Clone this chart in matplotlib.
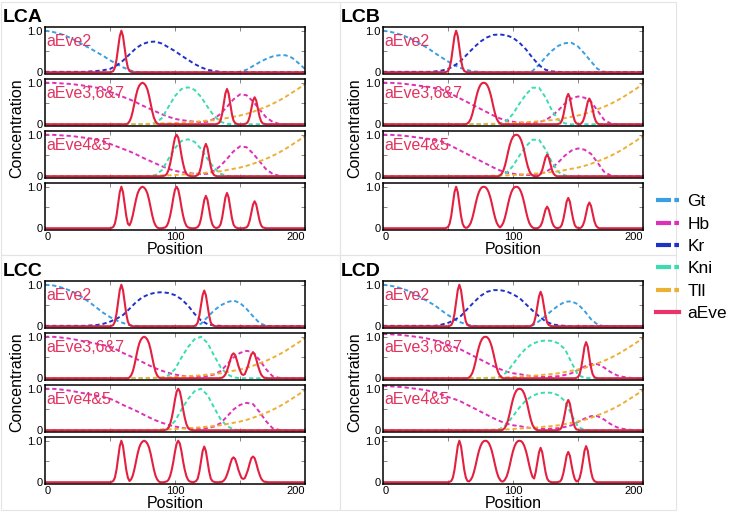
import numpy as np
import matplotlib
matplotlib.use('Agg')
import matplotlib.pyplot as plt
from matplotlib.lines import Line2D

plt.rcParams['font.family'] = ['Liberation Sans', 'DejaVu Sans']

# positions (A-P axis) the profiles were read at
pos = np.arange(0, 201, 5)
pos_eve = np.arange(0, 200.01, 1.25)

# ---- gap gene profiles, read every 5 positions (0..200) ----
lca_gt = [1.0, 0.98, 0.94, 0.89, 0.82, 0.74, 0.65, 0.57, 0.48, 0.39,
          0.29, 0.2, 0.12, 0.05, 0.01, 0, 0, 0, 0, 0,
          0, 0, 0, 0, 0, 0, 0, 0, 0, 0,
          0.01, 0.06, 0.15, 0.24, 0.32, 0.38, 0.41, 0.41, 0.35, 0.22, 0.08]
lca_kr = [0.01, 0.01, 0.01, 0.01, 0.01, 0.01, 0.01, 0.02, 0.03, 0.05,
          0.08, 0.16, 0.28, 0.43, 0.58, 0.68, 0.73, 0.74, 0.69, 0.6,
          0.51, 0.4, 0.3, 0.2, 0.12, 0.06, 0.03, 0.01, 0, 0,
          0, 0, 0, 0, 0, 0, 0, 0, 0, 0, 0]
lca_hb = [1.0, 1.0, 0.99, 0.98, 0.97, 0.95, 0.93, 0.91, 0.88, 0.84,
          0.78, 0.72, 0.66, 0.6, 0.53, 0.45, 0.38, 0.31, 0.24, 0.18,
          0.13, 0.1, 0.08, 0.06, 0.05, 0.06, 0.13, 0.25, 0.42, 0.6,
          0.72, 0.7, 0.55, 0.36, 0.17, 0.06, 0.01, 0, 0, 0, 0]
lca_kni = [0, 0, 0, 0, 0, 0, 0, 0, 0, 0,
           0, 0, 0, 0, 0, 0, 0, 0.03, 0.15, 0.42,
           0.68, 0.85, 0.89, 0.83, 0.66, 0.42, 0.2, 0.06, 0.01, 0,
           0, 0, 0, 0, 0, 0, 0, 0, 0, 0, 0]

lcb_gt = [1.0, 0.98, 0.94, 0.89, 0.83, 0.75, 0.66, 0.57, 0.46, 0.36,
          0.26, 0.17, 0.1, 0.05, 0.02, 0.01, 0, 0, 0, 0,
          0, 0, 0, 0.03, 0.18, 0.36, 0.52, 0.64, 0.7, 0.71,
          0.62, 0.45, 0.26, 0.08, 0.01, 0, 0, 0, 0, 0, 0]
lcb_kr = [0.01, 0.01, 0.01, 0.01, 0.01, 0.01, 0.01, 0.01, 0.02, 0.04,
          0.08, 0.16, 0.28, 0.44, 0.6, 0.74, 0.84, 0.9, 0.91, 0.89,
          0.83, 0.71, 0.55, 0.35, 0.17, 0.06, 0.02, 0.01, 0, 0,
          0, 0, 0, 0, 0, 0, 0, 0, 0, 0, 0]
lcb_hb = [1.0, 1.0, 0.99, 0.98, 0.96, 0.94, 0.92, 0.9, 0.87, 0.84,
          0.77, 0.69, 0.61, 0.53, 0.45, 0.37, 0.29, 0.21, 0.14, 0.09,
          0.06, 0.04, 0.03, 0.03, 0.05, 0.1, 0.2, 0.34, 0.5, 0.62,
          0.67, 0.64, 0.54, 0.33, 0.11, 0.02, 0, 0, 0, 0, 0]
lcb_kni = [0, 0, 0, 0, 0, 0, 0, 0, 0, 0,
           0, 0, 0, 0, 0, 0, 0, 0, 0.02, 0.08,
           0.25, 0.5, 0.72, 0.88, 0.88, 0.65, 0.33, 0.1, 0.02, 0,
           0, 0, 0, 0, 0, 0, 0, 0, 0, 0, 0]

lcc_gt = [1.0, 0.99, 0.96, 0.91, 0.85, 0.77, 0.67, 0.56, 0.44, 0.32,
          0.22, 0.14, 0.08, 0.03, 0.01, 0, 0, 0, 0, 0,
          0, 0, 0, 0, 0.06, 0.22, 0.38, 0.5, 0.58, 0.62,
          0.56, 0.42, 0.24, 0.08, 0.01, 0, 0, 0, 0, 0, 0]
lcc_kr = [0.01, 0.01, 0.01, 0.01, 0.01, 0.01, 0.01, 0.02, 0.03, 0.06,
          0.11, 0.18, 0.27, 0.42, 0.58, 0.7, 0.77, 0.81, 0.82, 0.8,
          0.75, 0.65, 0.5, 0.3, 0.14, 0.05, 0.02, 0.01, 0, 0,
          0, 0, 0, 0, 0, 0, 0, 0, 0, 0, 0]
lcc_hb = [1.0, 1.0, 0.99, 0.97, 0.95, 0.92, 0.89, 0.86, 0.83, 0.8,
          0.76, 0.69, 0.61, 0.54, 0.47, 0.39, 0.31, 0.24, 0.18, 0.13,
          0.09, 0.06, 0.04, 0.03, 0.04, 0.05, 0.09, 0.17, 0.33, 0.5,
          0.61, 0.66, 0.63, 0.44, 0.22, 0.05, 0.01, 0, 0, 0, 0]
lcc_kni = [0, 0, 0, 0, 0, 0, 0, 0, 0, 0,
           0, 0, 0, 0, 0, 0, 0, 0, 0.01, 0.07,
           0.22, 0.5, 0.75, 0.94, 1.0, 0.85, 0.55, 0.27, 0.1, 0.02,
           0, 0, 0, 0, 0, 0, 0, 0, 0, 0, 0]

lcd_gt = [1.0, 0.98, 0.95, 0.9, 0.85, 0.77, 0.68, 0.59, 0.5, 0.38,
          0.27, 0.17, 0.09, 0.04, 0.01, 0, 0, 0, 0, 0,
          0, 0, 0, 0.02, 0.12, 0.25, 0.38, 0.5, 0.59, 0.6,
          0.53, 0.37, 0.17, 0.04, 0, 0, 0, 0, 0, 0, 0]
lcd_kr = [0.01, 0.01, 0.01, 0.01, 0.01, 0.01, 0.01, 0.01, 0.01, 0.04,
          0.08, 0.15, 0.25, 0.42, 0.58, 0.73, 0.83, 0.87, 0.87, 0.84,
          0.77, 0.68, 0.53, 0.38, 0.24, 0.12, 0.05, 0.02, 0.01, 0,
          0, 0, 0, 0, 0, 0, 0, 0, 0, 0, 0]
lcd_hb = [1.07, 1.06, 1.05, 1.04, 1.02, 1.0, 0.98, 0.95, 0.91, 0.86,
          0.8, 0.75, 0.69, 0.61, 0.53, 0.45, 0.37, 0.29, 0.22, 0.16,
          0.12, 0.1, 0.07, 0.05, 0.04, 0.03, 0.04, 0.05, 0.08, 0.12,
          0.2, 0.28, 0.34, 0.34, 0.26, 0.15, 0.07, 0.03, 0.01, 0, 0]
lcd_kni = [0, 0, 0, 0, 0, 0, 0, 0, 0, 0,
           0, 0, 0, 0, 0, 0, 0, 0.01, 0.03, 0.14,
           0.34, 0.55, 0.72, 0.83, 0.89, 0.91, 0.9, 0.84, 0.7, 0.38,
           0.08, 0.01, 0, 0, 0, 0, 0, 0, 0, 0, 0]

tll = [0, 0, 0, 0, 0, 0, 0, 0, 0, 0,
       0, 0, 0, 0, 0, 0, 0.01, 0.01, 0.02, 0.02,
       0.03, 0.04, 0.05, 0.06, 0.07, 0.09, 0.1, 0.12, 0.15, 0.18,
       0.21, 0.25, 0.3, 0.36, 0.42, 0.49, 0.57, 0.66, 0.76, 0.86, 0.97]

# ---- aEve stripe outputs: (first position, values every 1.25), zero elsewhere ----
lca_eve2 = [(51.25, [0.01, 0.03, 0.11, 0.3, 0.58, 0.87, 1.0, 0.87, 0.58, 0.3, 0.11, 0.03, 0.01])]
lca_eve367 = [(62.5, [0, 0.02, 0.07, 0.16, 0.31, 0.5, 0.69, 0.84, 0.93, 0.98, 1.0,
                      0.98, 0.93, 0.84, 0.69, 0.5, 0.31, 0.16, 0.07, 0.02, 0]),
              (132.5, [0.01, 0.03, 0.09, 0.25, 0.49, 0.74, 0.85, 0.74, 0.49, 0.25, 0.09, 0.03, 0.01]),
              (153.75, [0.01, 0.02, 0.07, 0.19, 0.38, 0.57, 0.65, 0.57, 0.38, 0.19, 0.07, 0.02, 0.01])]
lca_eve45 = [(91.25, [0.01, 0.02, 0.06, 0.15, 0.3, 0.5, 0.74, 0.93, 1.0,
                      0.93, 0.74, 0.5, 0.3, 0.15, 0.06, 0.02, 0.01]),
             (116.25, [0.01, 0.03, 0.09, 0.23, 0.45, 0.68, 0.78, 0.68, 0.45, 0.23, 0.09, 0.03, 0.01])]

lcb_eve2 = [(48.75, [0.01, 0.03, 0.11, 0.3, 0.58, 0.87, 1.0, 0.87, 0.58, 0.3, 0.11, 0.03, 0.01])]
lcb_eve367 = [(65.0, [0.02, 0.06, 0.13, 0.25, 0.41, 0.59, 0.75, 0.87, 0.95, 0.99, 1.0,
                      0.99, 0.95, 0.87, 0.75, 0.59, 0.41, 0.25, 0.13, 0.06, 0.02]),
              (135.0, [0.01, 0.02, 0.08, 0.22, 0.42, 0.64, 0.73, 0.64, 0.42, 0.22, 0.08, 0.02, 0.01]),
              (151.25, [0.0, 0.02, 0.07, 0.18, 0.36, 0.54, 0.62, 0.54, 0.36, 0.18, 0.07, 0.02, 0.0])]
lcb_eve45 = [(90.0, [0.02, 0.06, 0.13, 0.25, 0.41, 0.59, 0.75, 0.87, 0.95, 0.99, 1.0,
                     0.99, 0.95, 0.87, 0.75, 0.59, 0.41, 0.25, 0.13, 0.06, 0.02]),
             (118.75, [0.0, 0.02, 0.06, 0.15, 0.3, 0.45, 0.52, 0.45, 0.3, 0.15, 0.06, 0.02, 0.0])]

lcc_eve2 = [(51.25, [0.01, 0.03, 0.11, 0.3, 0.58, 0.87, 1.0, 0.87, 0.58, 0.3, 0.11, 0.03, 0.01]),
            (115.0, [0.01, 0.03, 0.09, 0.26, 0.5, 0.75, 0.86, 0.75, 0.5, 0.26, 0.09, 0.03, 0.01])]
lcc_eve367 = [(63.75, [0, 0.02, 0.07, 0.16, 0.31, 0.5, 0.69, 0.84, 0.93, 0.98, 1.0,
                       0.98, 0.93, 0.84, 0.69, 0.5, 0.31, 0.16, 0.07, 0.02, 0]),
              (135.0, [0.01, 0.01, 0.04, 0.09, 0.18, 0.3, 0.44, 0.56, 0.6,
                       0.56, 0.44, 0.3, 0.18, 0.09, 0.04, 0.01, 0.01]),
              (150.0, [0.01, 0.01, 0.04, 0.09, 0.19, 0.31, 0.46, 0.58, 0.62,
                       0.58, 0.46, 0.31, 0.19, 0.09, 0.04, 0.01, 0.01])]
lcc_eve45 = [(92.5, [0.01, 0.02, 0.06, 0.15, 0.3, 0.5, 0.74, 0.93, 1.0,
                     0.93, 0.74, 0.5, 0.3, 0.15, 0.06, 0.02, 0.01])]

lcd_eve2 = [(51.25, [0.01, 0.03, 0.11, 0.3, 0.58, 0.87, 1.0, 0.87, 0.58, 0.3, 0.11, 0.03, 0.01]),
            (113.75, [0.01, 0.03, 0.09, 0.25, 0.48, 0.72, 0.83, 0.72, 0.48, 0.25, 0.09, 0.03, 0.01])]
lcd_eve367 = [(66.25, [0.02, 0.06, 0.13, 0.25, 0.41, 0.59, 0.75, 0.87, 0.95, 0.99, 1.0,
                       0.99, 0.95, 0.87, 0.75, 0.59, 0.41, 0.25, 0.13, 0.06, 0.02]),
              (148.75, [0.01, 0.03, 0.1, 0.26, 0.5, 0.76, 0.87, 0.76, 0.5, 0.26, 0.1, 0.03, 0.01])]
lcd_eve45 = [(92.5, [0.02, 0.06, 0.13, 0.25, 0.41, 0.59, 0.75, 0.87, 0.95, 0.99, 1.0,
                     0.99, 0.95, 0.87, 0.75, 0.59, 0.41, 0.25, 0.13, 0.06, 0.02]),
             (135.0, [0.01, 0.02, 0.08, 0.22, 0.42, 0.64, 0.73, 0.64, 0.42, 0.22, 0.08, 0.02, 0.01])]

panels = {
    'LCA': (lca_gt, lca_kr, lca_hb, lca_kni, lca_eve2, lca_eve367, lca_eve45),
    'LCB': (lcb_gt, lcb_kr, lcb_hb, lcb_kni, lcb_eve2, lcb_eve367, lcb_eve45),
    'LCC': (lcc_gt, lcc_kr, lcc_hb, lcc_kni, lcc_eve2, lcc_eve367, lcc_eve45),
    'LCD': (lcd_gt, lcd_kr, lcd_hb, lcd_kni, lcd_eve2, lcd_eve367, lcd_eve45),
}
stripe_names = ['aEve2', 'aEve3,6&7', 'aEve4&5']

c_gt = '#3a9fe2'
c_hb = '#dd2fb8'
c_kr = '#1f32c8'
c_kni = '#3cdcb0'
c_tll = '#ecb035'
c_eve = '#e3203f'
c_txt = '#e2335f'

W, H = 731, 512
fig = plt.figure(figsize=(W / 100, H / 100), dpi=100)

# faint boxes around the four panels
for (x0, y0, x1, y1) in [(1, 2, 340, 255), (340, 2, 676, 255), (1, 255, 340, 510), (340, 255, 676, 510)]:
    fig.add_artist(plt.Rectangle((x0 / W, 1 - y1 / H), (x1 - x0) / W, (y1 - y0) / H,
                                 transform=fig.transFigure, fill=False, ec='#e4e4e4', lw=0.8))

origin = {'LCA': (45, 27), 'LCB': (383, 27), 'LCC': (45, 281), 'LCD': (383, 281)}
aw, ah, step = 260, 46.5, 52


def place(pieces):
    y = np.zeros(len(pos_eve))
    for start, vals in pieces:
        i0 = int(round(start / 1.25))
        y[i0:i0 + len(vals)] += vals
    return y


def dashed(ax, y, c):
    ax.plot(pos, y, color=c, lw=1.4, ls=(0, (2.2, 1.5)))


for name, (gt, kr, hb, kni, e2, e367, e45) in panels.items():
    left, top = origin[name]
    stripes = [place(e2), place(e367), place(e45)]
    axes = []
    for k in range(4):
        t = top + step * k
        ax = fig.add_axes([left / W, 1 - (t + ah) / H, aw / W, ah / H])
        axes.append(ax)
    dashed(axes[0], gt, c_gt)
    dashed(axes[0], kr, c_kr)
    for ax in axes[1:3]:
        dashed(ax, hb, c_hb)
        dashed(ax, kni, c_kni)
        dashed(ax, tll, c_tll)
    for k in range(3):
        axes[k].plot(pos_eve, stripes[k], color=c_eve, lw=1.5)
        axes[k].text(0.006, 0.68, stripe_names[k], transform=axes[k].transAxes,
                     color=c_txt, fontsize=11.5, ha='left', va='center')
    axes[3].plot(pos_eve, np.maximum.reduce(stripes), color=c_eve, lw=1.5)

    for k, ax in enumerate(axes):
        ax.set_xlim(0, 200)
        ax.set_ylim(-0.03, 1.09)
        ax.set_xticks([0, 50, 100, 150, 200])
        ax.set_yticks([0, 0.5, 1.0])
        ax.set_yticklabels(['0', '', '1.0'])
        ax.tick_params(direction='in', length=3, width=0.6, color='0.45',
                       top=True, right=True, labelsize=8, pad=1.5)
        for s in ax.spines.values():
            s.set_linewidth(1.1)
        if k < 3:
            ax.set_xticklabels([])
        else:
            labs = ax.set_xticklabels(['0', '', '100', '', '200'])
            labs[0].set_ha('left')
            labs[-1].set_ha('right')

    fig.text((left - 42) / W, 1 - (top - 9) / H, name, fontsize=14, fontweight='bold',
             ha='left', va='center')
    fig.text((left - 28) / W, 1 - (top + 101) / H, 'Concentration', rotation=90,
             fontsize=11.5, ha='center', va='center')
    fig.text((left + 130) / W, 1 - (top + 223) / H, 'Position', fontsize=11.5,
             ha='center', va='center')

dash = (0, (3.6, 0.8))
handles = [
    Line2D([], [], color=c_gt, lw=3, ls=dash),
    Line2D([], [], color=c_hb, lw=3, ls=dash),
    Line2D([], [], color=c_kr, lw=3, ls=dash),
    Line2D([], [], color=c_kni, lw=3, ls=dash),
    Line2D([], [], color=c_tll, lw=3, ls=dash),
    Line2D([], [], color='#e8336b', lw=3),
]
fig.legend(handles, ['Gt', 'Hb', 'Kr', 'Kni', 'Tll', 'aEve'], loc='upper left',
           bbox_to_anchor=(656 / W, 1 - 194 / H), frameon=False, fontsize=12.5,
           handlelength=1.3, handletextpad=0.5, labelspacing=0.42,
           borderaxespad=0, borderpad=0)

fig.savefig('out.png', dpi=100, facecolor='w')
